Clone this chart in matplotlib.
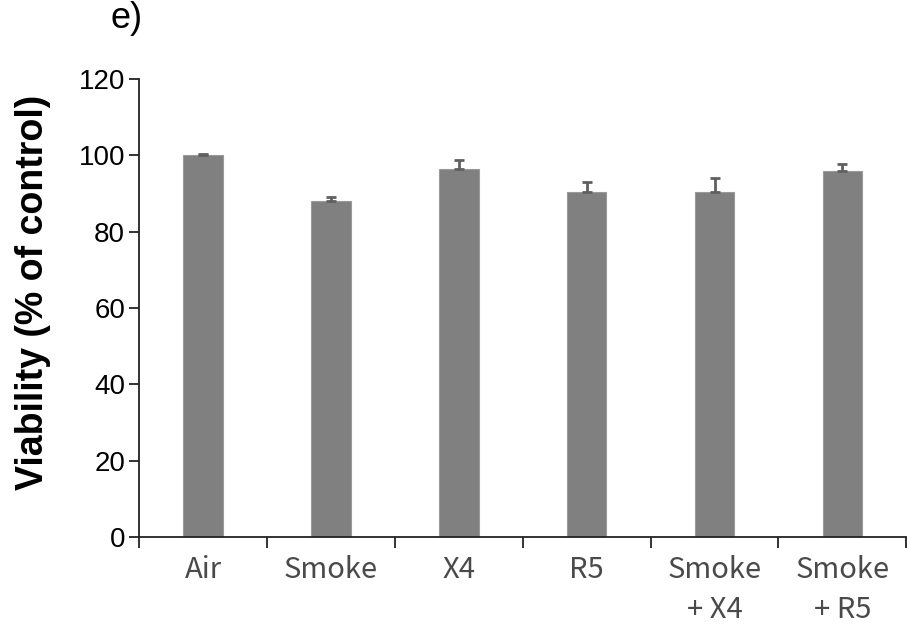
import matplotlib
matplotlib.use("Agg")
import matplotlib.pyplot as plt
import numpy as np

# Cell viability per treatment group
categories = ["Air", "Smoke", "X4", "R5", "Smoke\n+ X4", "Smoke\n+ R5"]
viability = [100.0, 88.0, 96.3, 90.5, 90.5, 95.8]
errors = [0.3, 1.1, 2.5, 2.5, 3.6, 1.8]
yticks = [0, 20, 40, 60, 80, 100, 120]

fig = plt.figure(figsize=(9.07, 6.29), dpi=100)
ax = fig.add_axes([0.1533, 0.1463, 0.846, 0.7281])

x = np.arange(len(categories))
ax.bar(x, viability, width=0.31, color="#808080", edgecolor="#9a9a9a", linewidth=0.8, zorder=2)
ax.errorbar(x, viability, yerr=[np.zeros(len(errors)), errors], fmt="none",
            ecolor="#606060", elinewidth=2, capsize=3.5, capthick=2, zorder=3)

ax.set_xlim(-0.5, len(categories) - 0.5)
ax.set_ylim(0, 120)
ax.set_yticks(yticks)
ax.set_yticklabels([str(v) for v in yticks], fontsize=20, family="Liberation Sans")

ax.set_xticks(x)
ax.set_xticklabels(categories, fontsize=21, family="Noto Sans CJK KR", color="#4a4a4a",
                   va="top", linespacing=1.42)
ax.set_xticks(np.arange(len(categories) + 1) - 0.5, minor=True)
ax.tick_params(axis="x", which="major", length=0, pad=13)
ax.tick_params(axis="x", which="minor", length=8, width=1.3, direction="out", color="#222222")
ax.tick_params(axis="y", length=7, width=1.3, direction="out", color="#222222", pad=3)

for side in ("top", "right"):
    ax.spines[side].set_visible(False)
for side in ("left", "bottom"):
    ax.spines[side].set_linewidth(1.3)
    ax.spines[side].set_color("#222222")

fig.text(0.036, 1 - 292 / 629, "Viability (% of control)", fontsize=27, fontweight="bold",
         family="Liberation Sans", rotation=90, ha="center", va="center")

fig.text(0.122, 0.998, "e)", fontsize=26, family="Liberation Sans", va="top", ha="left")

fig.savefig("out.png", dpi=100)
